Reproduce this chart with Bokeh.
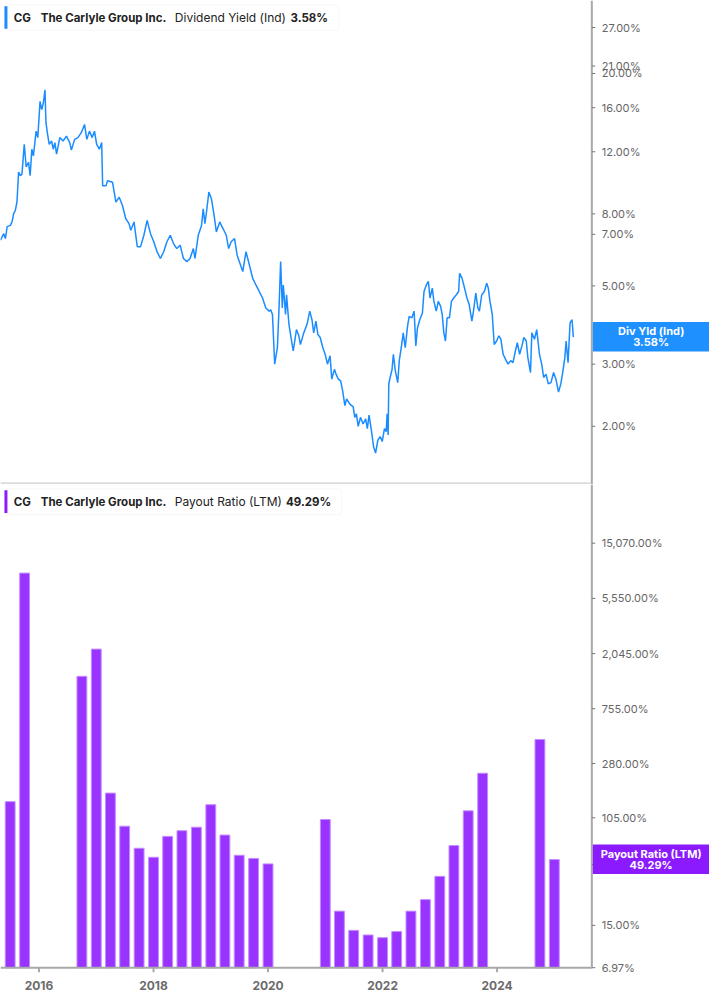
import pandas as pd
from bokeh.plotting import figure
from bokeh.layouts import column
from bokeh.core.properties import value
from bokeh.models import Range1d, BoxAnnotation, Label, ColumnDataSource
from bokeh.embed import file_html
from bokeh.resources import INLINE

# ---------------- data ----------------
div_years = [
    2015.327, 2015.384, 2015.413, 2015.443, 2015.500, 2015.529, 2015.557, 2015.586, 2015.615, 2015.643,
    2015.672, 2015.702, 2015.742, 2015.776, 2015.816, 2015.845, 2015.874, 2015.902, 2015.949, 2015.978,
    2016.018, 2016.047, 2016.075, 2016.104, 2016.121, 2016.144, 2016.178, 2016.220, 2016.248, 2016.277,
    2016.306, 2016.363, 2016.420, 2016.479, 2016.536, 2016.565, 2016.622, 2016.679, 2016.738, 2016.795,
    2016.835, 2016.881, 2016.928, 2016.968, 2017.007, 2017.054, 2017.094, 2017.111, 2017.170, 2017.197,
    2017.284, 2017.343, 2017.400, 2017.457, 2017.515, 2017.572, 2017.602, 2017.659, 2017.716, 2017.774,
    2017.831, 2017.888, 2017.947, 2018.004, 2018.061, 2018.120, 2018.177, 2018.234, 2018.292, 2018.349,
    2018.406, 2018.465, 2018.522, 2018.579, 2018.638, 2018.695, 2018.724, 2018.781, 2018.838, 2018.868,
    2018.897, 2018.925, 2018.966, 2019.011, 2019.058, 2019.097, 2019.156, 2019.213, 2019.270, 2019.311,
    2019.356, 2019.415, 2019.460, 2019.519, 2019.558, 2019.615, 2019.674, 2019.731, 2019.788, 2019.817,
    2019.904, 2019.961, 2020.020, 2020.047, 2020.077, 2020.116, 2020.163, 2020.192, 2020.220, 2020.249,
    2020.266, 2020.306, 2020.323, 2020.365, 2020.393, 2020.439, 2020.462, 2020.496, 2020.538, 2020.565,
    2020.624, 2020.681, 2020.728, 2020.767, 2020.797, 2020.836, 2020.871, 2020.911, 2020.957, 2020.997,
    2021.038, 2021.083, 2021.113, 2021.159, 2021.187, 2021.228, 2021.268, 2021.303, 2021.342, 2021.372,
    2021.429, 2021.487, 2021.515, 2021.543, 2021.574, 2021.614, 2021.660, 2021.705, 2021.734, 2021.764,
    2021.804, 2021.843, 2021.878, 2021.919, 2021.959, 2021.994, 2022.033, 2022.063, 2022.080, 2022.097,
    2022.109, 2022.132, 2022.166, 2022.189, 2022.223, 2022.265, 2022.292, 2022.334, 2022.361, 2022.396,
    2022.437, 2022.465, 2022.512, 2022.551, 2022.581, 2022.610, 2022.650, 2022.696, 2022.724, 2022.765,
    2022.800, 2022.828, 2022.869, 2022.897, 2022.938, 2022.973, 2023.013, 2023.042, 2023.070, 2023.099,
    2023.128, 2023.168, 2023.203, 2023.242, 2023.289, 2023.329, 2023.346, 2023.387, 2023.432, 2023.474,
    2023.514, 2023.560, 2023.588, 2023.629, 2023.664, 2023.691, 2023.733, 2023.778, 2023.819, 2023.847,
    2023.876, 2023.916, 2023.950, 2023.992, 2024.031, 2024.066, 2024.106, 2024.147, 2024.192, 2024.239,
    2024.278, 2024.320, 2024.354, 2024.394, 2024.434, 2024.468, 2024.510, 2024.538, 2024.584, 2024.607,
    2024.653, 2024.693, 2024.740, 2024.780, 2024.814, 2024.855, 2024.895, 2024.942, 2024.987, 2025.028,
    2025.073, 2025.114, 2025.142, 2025.184, 2025.206, 2025.240, 2025.275, 2025.310, 2025.332,
]
div_yield = [
    6.74, 7.03, 6.81, 7.36, 7.42, 7.60, 8.01, 8.18, 8.66, 10.51,
    10.26, 10.37, 12.60, 10.86, 11.21, 10.26, 12.20, 11.68, 13.73, 13.16,
    16.67, 15.80, 16.50, 17.99, 14.53, 13.62, 12.60, 12.87, 12.20, 12.74,
    11.81, 13.16, 12.87, 13.29, 12.74, 12.14, 13.01, 13.16, 13.59, 14.34,
    13.01, 13.73, 13.16, 13.73, 12.60, 12.20, 12.74, 9.62, 9.62, 9.93,
    9.83, 8.64, 8.92, 8.45, 7.75, 7.51, 7.19, 7.59, 6.46, 6.46,
    6.96, 7.67, 7.03, 6.67, 6.25, 5.98, 6.25, 6.67, 6.96, 6.59,
    6.38, 6.52, 5.98, 5.86, 5.98, 6.38, 5.98, 6.96, 7.42, 8.27,
    7.51, 8.10, 9.22, 8.83, 7.92, 7.11, 7.59, 7.27, 6.96, 6.38,
    6.67, 6.81, 6.11, 5.73, 5.49, 6.25, 5.73, 5.26, 5.03, 4.93,
    4.62, 4.33, 4.24, 4.28, 4.15, 3.00, 3.34, 4.33, 5.86, 4.33,
    5.03, 4.15, 4.72, 3.89, 3.64, 3.27, 3.45, 3.76, 3.61, 3.41,
    3.68, 3.89, 4.24, 4.01, 3.68, 3.97, 3.64, 3.57, 3.34, 3.20,
    3.00, 3.17, 2.72, 2.90, 2.81, 2.72, 2.69, 2.52, 2.29, 2.39,
    2.31, 2.27, 2.12, 2.17, 2.00, 2.12, 2.03, 2.10, 1.97, 2.15,
    1.95, 1.75, 1.68, 1.83, 1.87, 1.81, 1.97, 1.93, 2.17, 1.89,
    2.64, 2.75, 2.90, 3.20, 2.87, 2.66, 3.07, 3.41, 3.68, 3.34,
    3.85, 4.10, 4.06, 4.24, 3.38, 3.80, 4.01, 4.19, 4.82, 5.03,
    5.15, 4.62, 4.93, 4.52, 4.24, 4.52, 4.38, 4.15, 3.68, 3.49,
    4.06, 4.06, 4.52, 4.62, 4.72, 4.82, 5.43, 5.26, 4.93, 4.62,
    4.42, 3.97, 4.24, 4.77, 4.33, 4.24, 4.72, 4.82, 5.09, 4.93,
    4.52, 4.15, 3.41, 3.49, 3.61, 3.53, 3.20, 3.10, 3.00, 3.07,
    3.03, 3.27, 3.45, 3.20, 3.38, 3.57, 3.49, 3.13, 2.84, 3.68,
    3.53, 3.76, 3.20, 3.00, 2.75, 2.81, 2.64, 2.66, 2.84, 2.72,
    2.50, 2.64, 2.81, 3.13, 3.49, 3.03, 3.93, 4.01, 3.58,
]

payout_dates = [
    "2015-06-30", "2015-09-30",
    "2016-09-30", "2016-12-31", "2017-03-31", "2017-06-30", "2017-09-30", "2017-12-31",
    "2018-03-31", "2018-06-30", "2018-09-30", "2018-12-31", "2019-03-31", "2019-06-30",
    "2019-09-30", "2019-12-31",
    "2020-12-31", "2021-03-31", "2021-06-30", "2021-09-30", "2021-12-31", "2022-03-31",
    "2022-06-30", "2022-09-30", "2022-12-31", "2023-03-31", "2023-06-30", "2023-09-30",
    "2024-09-30", "2024-12-31",
]
payout_ratio = [
    140.6, 8770.0,
    1356.0, 2218.0, 164.0, 90.2, 60.5, 51.4,
    75.0, 83.1, 88.6, 133.0, 76.8, 53.3,
    50.3, 45.6,
    101.8, 19.4, 13.7, 12.6, 12.0, 13.4,
    19.4, 23.9, 36.4, 63.5, 119.0, 235.0,
    433.0, 49.29,
]

yield_ticks = [2, 3, 5, 7, 8, 12, 16, 20, 21, 27]
payout_ticks = [6.97, 15, 45, 105, 280, 755, 2045, 5550, 15070]
year_ticks = [2016, 2018, 2020, 2022, 2024]

last_yield = 3.58
last_payout = 49.29
payout_axis_min = 6.97

# ---------------- layout helpers (reference pixel -> data / canvas) ----------------
W, H = 709, 997
SX = W / 717
SY = H / 1005
H1 = round(488 * SY)
H2 = H - H1


def xpx(px):
    return 2015.327 + px * 0.017271


def top_y(py):
    return 2 * 10 ** ((429.3 - py) / 355.7)


def bot_y(py):
    return 6.97 * 10 ** ((975 - py) / 128.3)


FONT = "Inter"
BLUE = "#1a8cff"
PURPLE = "#9933ff"
BADGE_BLUE = "#1e90ff"
BADGE_PURPLE = "#8c1aff"
AXIS_GREY = "#a8a8a8"
LABEL_GREY = "#666666"

pd_dates = pd.to_datetime(pd.Series(payout_dates))
days = pd_dates.dt.is_leap_year.map({True: 366.0, False: 365.0})
payout_x = (pd_dates.dt.year + pd_dates.dt.dayofyear / days).tolist()


def pct(v):
    return f"{v:,.2f}%"


def right_axis(p, ticks, y_lo, y_hi):
    ax = xpx(598)
    p.segment(x0=[ax], x1=[ax], y0=[y_lo], y1=[y_hi], line_color=AXIS_GREY, line_width=2)
    n = len(ticks)
    p.segment(x0=[ax] * n, x1=[xpx(601.5)] * n, y0=ticks, y1=ticks,
              line_color="#777777", line_width=1)
    p.text(x=[xpx(608)] * n, y=ticks, text=[pct(t) for t in ticks],
           text_font=value(FONT), text_font_size=value("11px"), text_color=LABEL_GREY,
           text_align="left", text_baseline="middle")


def canvas_box(p, left, right, top, bottom, **kw):
    p.add_layout(BoxAnnotation(left=left, right=right, top=top, bottom=bottom,
                               left_units="canvas", right_units="canvas",
                               top_units="canvas", bottom_units="canvas",
                               fill_alpha=1, level="overlay", **kw))


def canvas_text(p, x, y, text, size, style, color, align):
    p.add_layout(Label(x=x, y=y, x_units="canvas", y_units="canvas", text=text,
                       text_font=FONT, text_font_size=size, text_font_style=style,
                       text_color=color, text_align=align, text_baseline="middle",
                       level="overlay"))


def header(p, y0_ref, top_ref, bot_ref, bar_color, metric, val, right_ref, metric_ref, val_ref):
    t = (top_ref - y0_ref) * SY
    b = (bot_ref - y0_ref) * SY
    canvas_box(p, 4 * SX, right_ref * SX, t, b, fill_color="white",
               line_color="#e4e4e4", line_width=1, border_radius=4)
    canvas_box(p, 4 * SX, 7 * SX, t + 1.5, b - 1.5, fill_color=bar_color, line_color=None)
    cy = (t + b) / 2
    for txt, px, style, size in [("CG", 13.3, "bold", "11.5px"),
                                 ("The Carlyle Group Inc.", 40.7, "bold", "11.5px"),
                                 (metric, metric_ref, "normal", "12px"),
                                 (val, val_ref, "bold", "11.5px")]:
        canvas_text(p, px * SX, cy, txt, size, style, "#222222", "left")


def badge(p, y0_ref, top_ref, bot_ref, color, line1, line2):
    t = (top_ref - y0_ref) * SY
    b = (bot_ref - y0_ref) * SY
    canvas_box(p, 599 * SX, W, t, b, fill_color=color, line_color=None)
    mid = (t + b) / 2
    canvas_text(p, 658 * SX, mid - 5.3, line1, "11px", "bold", "white", "center")
    canvas_text(p, 658 * SX, mid + 5.7, line2, "11px", "bold", "white", "center")


def base_figure(height, y_range):
    p = figure(width=W, height=height, x_range=Range1d(xpx(0), xpx(717)),
               y_range=y_range, y_axis_type="log",
               x_axis_location=None, y_axis_location=None,
               toolbar_location=None, output_backend="svg",
               min_border_left=0, min_border_right=0, min_border_top=0, min_border_bottom=0)
    p.grid.visible = False
    p.outline_line_color = None
    p.background_fill_color = "white"
    p.border_fill_color = "white"
    return p


# ---------------- top: dividend yield ----------------
p1 = base_figure(H1, Range1d(top_y(488), top_y(0)))
p1.line(div_years, div_yield, line_color=BLUE, line_width=1.5)
right_axis(p1, yield_ticks, top_y(488), top_y(0))
p1.segment(x0=[xpx(0)], x1=[xpx(597)], y0=[top_y(486.8)], y1=[top_y(486.8)],
           line_color="#dcdcdc", line_width=2)
header(p1, 0, 4.3, 30.0, BLUE, "Dividend Yield (Ind)", pct(last_yield), 342, 176.3, 293.3)
badge(p1, 0, 324, 353.7, BADGE_BLUE, "Div Yld (Ind)", pct(last_yield))

# ---------------- bottom: payout ratio ----------------
p2 = base_figure(H2, Range1d(bot_y(1005), bot_y(488)))
src = ColumnDataSource(dict(x=payout_x, top=payout_ratio,
                            bottom=[payout_axis_min] * len(payout_ratio)))
p2.vbar(x="x", top="top", bottom="bottom", width=0.172, source=src,
        fill_color=PURPLE, line_color="#c48dff", line_width=1)
right_axis(p2, payout_ticks, payout_axis_min, bot_y(488))
# x axis (years) along the bottom of the payout panel
p2.segment(x0=[xpx(0)], x1=[xpx(598)], y0=[payout_axis_min], y1=[payout_axis_min],
           line_color=AXIS_GREY, line_width=2)
ny = len(year_ticks)
p2.segment(x0=year_ticks, x1=year_ticks, y0=[payout_axis_min] * ny, y1=[bot_y(979.5)] * ny,
           line_color=AXIS_GREY, line_width=2)
p2.text(x=year_ticks, y=[bot_y(992.5)] * ny, text=[str(y) for y in year_ticks],
        text_font=value(FONT), text_font_size=value("12px"), text_font_style=value("bold"),
        text_color="#6b6b6b", text_align="center", text_baseline="middle")
header(p2, 488, 492.3, 518.3, BADGE_PURPLE, "Payout Ratio (LTM)", pct(last_payout),
       345, 176.3, 288.7)
badge(p2, 488, 851, 880.7, BADGE_PURPLE, "Payout Ratio (LTM)", pct(last_payout))

layout = column(p1, p2, spacing=0)
open("out.html", "w").write(file_html(layout, INLINE))
